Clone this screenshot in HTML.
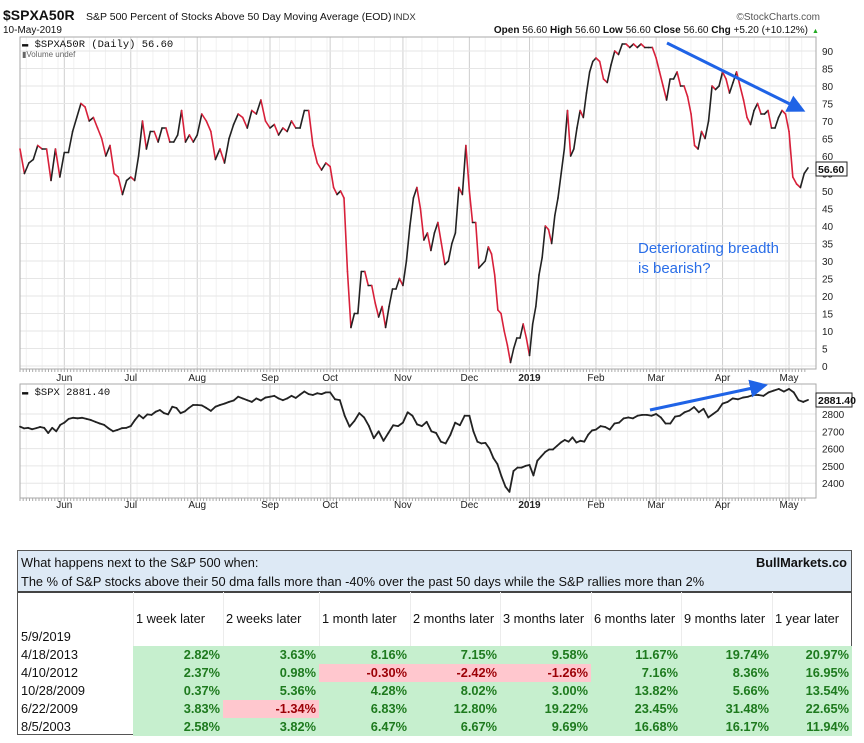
<!DOCTYPE html>
<html><head><meta charset="utf-8">
<style>
body{margin:0;width:864px;height:743px;background:#fff;overflow:hidden;font-family:"Liberation Sans",sans-serif;}
svg{position:absolute;left:0;top:0}
#tbl{position:absolute;left:17px;top:550px;width:835px;height:185px;border:1px solid #555;box-sizing:border-box;font-size:12.8px;color:#111}
.hdr{position:absolute;left:0;top:0;width:100%;height:40px;background:#dde9f5;border-bottom:2px solid #444}
.cell{position:absolute;height:18px;line-height:18px;box-sizing:border-box;padding:0 3px;white-space:nowrap}
.g{background:#c6efce;color:#1e7a1e;font-weight:bold;text-align:right}
.r{background:#ffc7ce;color:#9c0006;font-weight:bold;text-align:right}
</style></head><body>
<svg id="chart" width="864" height="545"></svg>
<div id="tbl">
 <div class="hdr">
  <div style="position:absolute;left:3px;top:4px">What happens next to the S&amp;P 500 when:</div>
  <div style="position:absolute;right:4px;top:4px;font-weight:bold">BullMarkets.co</div>
  <div style="position:absolute;left:3px;top:23px">The % of S&amp;P stocks above their 50 dma falls more than -40% over the past 50 days while the S&amp;P rallies more than 2%</div>
 </div>
</div>
<script>
const monthLabels=['Jun','Jul','Aug','Sep','Oct','Nov','Dec','2019','Feb','Mar','Apr','May'];
const monthDays=[14,21,21,23,19,23,21,19,21,19,21,21,6];
const breadthByMonth=[
[62,55,58,59,63,62,62,53,62,54],
[61,61,67,71,75,74,70,71,68,65,60,63,55,54,49,53],
[54,53,60,70,62,67,67,64,68,68,64,64,66,73,64,66,64],
[66,72,70,67,59,62,58,65,69,72,71,68,73,72,76,70],
[68,69,66,68,67,70,68,68,73,73,63,58,56,58],
[57,51,49,50,48,27,11,15,15,27,27,23,23,18,14,17,11,17,22,22,25],
[23,30,40,48,51,45,36,38,33,38,41,35,29,30,35,38,51,49,63],
[50,41,41,28,29,30,34,32,26,16,15,10,6,1,5,8,8,12,8],
[3,12,17,26,31,40,39,35,43,48,55,62,73,60,62,68,73,71,78,84,87],
[88,87,82,81,86,90,89,92,92,91,92,91,92,91,91,91],
[88,84,80,76,82,82,84,80,80,77,72,63,62,67,65,70,80,79,80],
[84,82,78,81,84,80,76,71,69,73,75,72,72,73,68,68,71,73,72],
[67,54,52,51,55,56.6]];
const spxByMonth=[
[2727,2717,2720,2712,2718,2725,2720,2690,2720,2700,2737],
[2750,2772,2778,2775,2778,2772,2765,2755,2745,2737,2717,2700,2708,2718,2720],
[2730,2765,2794,2775,2798,2795,2813,2823,2805,2798,2842,2835,2805,2815,2835,2852],
[2852,2850,2835,2818,2842,2852,2860,2870,2878,2900,2890,2880,2870,2890,2878,2895],
[2900,2905,2890,2880,2890,2905,2893,2912,2930,2915,2910,2920,2915,2925],
[2925,2885,2880,2790,2727,2760,2805,2780,2730,2660,2700,2645,2690,2735,2730],
[2750,2810,2790,2740,2730,2755,2700,2690,2640,2630,2680,2750,2735,2790],
[2790,2700,2640,2630,2633,2600,2545,2510,2440,2380,2350,2470,2490,2490,2500],
[2505,2445,2530,2555,2580,2595,2595,2615,2635,2650,2640,2665,2635,2645,2640,2680,2705],
[2710,2730,2725,2710,2745,2750,2775,2780,2775,2790,2795,2795,2790],
[2800,2780,2745,2745,2785,2790,2810,2820,2840,2810,2830,2780,2800,2820],
[2860,2870,2890,2885,2895,2900,2910,2910,2905,2925,2935,2945,2930],
[2945,2925,2880,2870,2881.4]];
const breadthTicks=[0,5,10,15,20,25,30,35,40,45,50,55,60,65,70,75,80,85,90];
const spxTicks=[2400,2500,2600,2700,2800];

const NS='http://www.w3.org/2000/svg';
const svg=document.getElementById('chart');
function el(tag,attrs,parent){const e=document.createElementNS(NS,tag);for(const k in attrs)e.setAttribute(k,attrs[k]);(parent||svg).appendChild(e);return e;}
const totalDays=monthDays.reduce((a,b)=>a+b,0);
const L=20,R=816,XR=808;
const x=d=>L+d*(XR-L)/totalDays;
const yTop=v=>366-3.5*v;
const yBot=v=>414+(2800-v)*0.173;
function points(byMonth){const pts=[];let start=0;byMonth.forEach((arr,m)=>{const last=m===byMonth.length-1;const step=monthDays[m]/(last?arr.length-1:arr.length);arr.forEach((v,j)=>pts.push([start+j*step,v]));start+=monthDays[m];});return pts;}
const monthStart=[];{let s=0;monthDays.forEach((d,i)=>{if(i>0)monthStart.push(s);s+=d;});}

function panel(y0,y1,ticks,ys,name){
 const g=el('g',{});
 for(let d=2;d<totalDays;d+=5)el('line',{x1:x(d),x2:x(d),y1:y0,y2:y1,stroke:'#f1f1f1'},g);
 monthStart.forEach(d=>el('line',{x1:x(d),x2:x(d),y1:y0,y2:y1,stroke:'#cfcfcf'},g));
 ticks.forEach(t=>{el('line',{x1:L,x2:R,y1:ys(t),y2:ys(t),stroke:'#e6e6e6'},g);
  const tx=el('text',{x:822,y:ys(t)+4,'font-size':10,fill:'#222'},g);tx.textContent=t;
  
  });
 el('rect',{x:L,y:y0,width:R-L,height:y1-y0,fill:'none',stroke:'#aaa'},g);
 for(let d=0;d<totalDays;d++)el('line',{x1:x(d),x2:x(d),y1:y1,y2:y1+3,stroke:'#aaa'},g);
}
function series(pts,ys,colored,name){
 const g=el('g',{});
 for(let i=1;i<pts.length;i++){const a=pts[i-1],b=pts[i];
  const c=colored?(b[1]<a[1]?'#d8203a':'#222'):'#222';
  el('line',{x1:x(a[0]),y1:ys(a[1]),x2:x(b[0]),y2:ys(b[1]),stroke:c,'stroke-width':colored?1.6:1.8,'stroke-linecap':'round'},g);}
}
function monthAxis(yy,name){monthLabels.forEach((m,i)=>{const t=el('text',{x:x(monthStart[i]),y:yy,'font-size':10,'text-anchor':'middle',fill:'#222','font-weight':m==='2019'?'bold':'normal'});t.textContent=m;
 
 });}

panel(37,369,breadthTicks,yTop,'breadth-panel');
series(points(breadthByMonth),yTop,true,'breadth-line');
monthAxis(381,'x-month-label');
panel(384,498,spxTicks,yBot,'spx-panel');
series(points(spxByMonth),yBot,false,'spx-line');
monthAxis(508,'x-month-label');

function txt(s,a,name){const t=el('text',a);t.textContent=s;return t;}
txt('$SPXA50R',{x:3,y:20,'font-size':14,'font-weight':'bold',fill:'#111'},'chart-symbol');
txt('S&P 500 Percent of Stocks Above 50 Day Moving Average (EOD)',{x:86,y:20,'font-size':10.5,fill:'#111'},'chart-title');
txt('INDX',{x:393,y:20,'font-size':9.5,fill:'#333'},'exchange-label');
txt('©StockCharts.com',{x:820,y:20,'font-size':10,fill:'#555','text-anchor':'end'},'watermark');
txt('10-May-2019',{x:3,y:33,'font-size':10,fill:'#111'},'chart-date');
const q=el('text',{x:808,y:33,'font-size':10,fill:'#111','text-anchor':'end'});
q.innerHTML='<tspan font-weight="bold">Open</tspan> 56.60 <tspan font-weight="bold">High</tspan> 56.60 <tspan font-weight="bold">Low</tspan> 56.60 <tspan font-weight="bold">Close</tspan> 56.60 <tspan font-weight="bold">Chg</tspan> +5.20 (+10.12%)';
txt('▲',{x:812,y:33,'font-size':7,fill:'#2a2'},'change-arrow');
txt('▬ $SPXA50R (Daily) 56.60',{x:22,y:47,'font-size':10.5,fill:'#111','font-family':'Liberation Mono, monospace'},'legend-breadth');
txt('▮Volume undef',{x:22,y:57,'font-size':8,fill:'#666'},'legend-volume');
txt('▬ $SPX 2881.40',{x:22,y:395,'font-size':10.5,fill:'#111','font-family':'Liberation Mono, monospace'},'legend-spx');
el('rect',{x:816,y:162,width:31,height:14,fill:'#fff',stroke:'#222'});
txt('56.60',{x:818,y:173,'font-size':10.5,'font-weight':'bold',fill:'#111'},'last-value-breadth');
el('rect',{x:816,y:393,width:36,height:14,fill:'#fff',stroke:'#222'});
txt('2881.40',{x:818,y:404,'font-size':10.5,'font-weight':'bold',fill:'#111'},'last-value-spx');
const defs=el('defs',{});const mk=el('marker',{id:'ah',markerWidth:6,markerHeight:6,refX:4,refY:3,orient:'auto'},defs);el('path',{d:'M0,0 L6,3 L0,6 z',fill:'#1f63e6'},mk);
const a1=el('line',{x1:667,y1:43,x2:800,y2:109,stroke:'#1f63e6','stroke-width':3,'marker-end':'url(#ah)'});
const a2=el('line',{x1:650,y1:410,x2:762,y2:386,stroke:'#1f63e6','stroke-width':3,'marker-end':'url(#ah)'});
txt('Deteriorating breadth',{x:638,y:253,'font-size':15,fill:'#2a6ee8'},'annotation-line1');
txt('is bearish?',{x:638,y:273,'font-size':15,fill:'#2a6ee8'},'annotation-line2');

const cols=['1 week later','2 weeks later','1 month later','2 months later','3 months later','6 months later','9 months later','1 year later'];
const rowDates=['5/9/2019','4/18/2013','4/10/2012','10/28/2009','6/22/2009','8/5/2003'];
const returns=[null,
[2.82,3.63,8.16,7.15,9.58,11.67,19.74,20.97],
[2.37,0.98,-0.30,-2.42,-1.26,7.16,8.36,16.95],
[0.37,5.36,4.28,8.02,3.00,13.82,5.66,13.54],
[3.83,-1.34,6.83,12.80,19.22,23.45,31.48,22.65],
[2.58,3.82,6.47,6.67,9.69,16.68,16.17,11.94]];
const tbl=document.getElementById('tbl');
const cx=[0,115,205,301,392,482,573,663,754,834];
for(let ci=1;ci<9;ci++){const d=document.createElement('div');d.style.cssText='position:absolute;top:41px;bottom:0;width:1px;background:#ececec;left:'+cx[ci]+'px';tbl.appendChild(d);}
function cell(left,top,w,text,cls,name){const d=document.createElement('div');d.className='cell '+(cls||'');d.style.left=left+'px';d.style.top=top+'px';d.style.width=w+'px';d.textContent=text;
 
 tbl.appendChild(d);}
cols.forEach((c,i)=>cell(cx[i+1],59,cx[i+2]-cx[i+1],c,'','column-header'));
rowDates.forEach((r,ri)=>{const top=77+ri*18;cell(0,top,115,r,'','row-date');
 if(returns[ri])returns[ri].forEach((v,ci)=>cell(cx[ci+1],top,cx[ci+2]-cx[ci+1],v.toFixed(2)+'%',v<0?'r':'g','return-cell'));});
</script>
</body></html>
